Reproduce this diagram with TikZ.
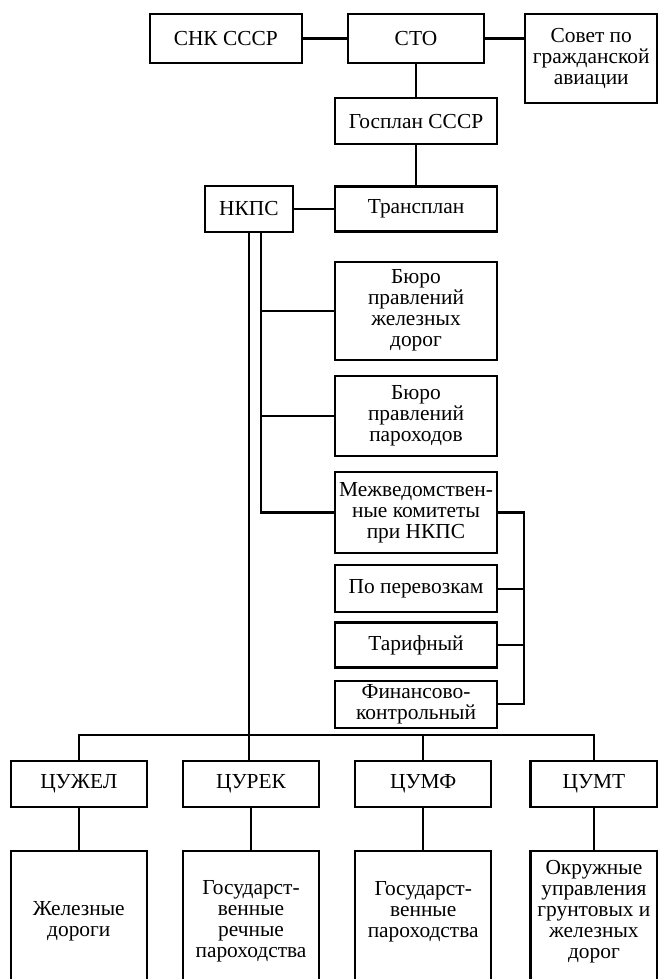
\documentclass[tikz,border=0pt]{standalone}
\usepackage{fontspec}
\setmainfont{Liberation Serif}
\usetikzlibrary{positioning}

\begin{document}
\begin{tikzpicture}[
    x=0.5pt, y=-0.5pt,
    every node/.style={font=\fontsize{10.7}{10.5}\selectfont},
    box/.style={
      draw, line width=1.1pt,
      align=center, inner xsep=1pt, inner ysep=2pt,
      minimum width=81pt, minimum height=23pt,
    },
    topbox/.style={box, minimum width=68pt, minimum height=24.5pt},
    cubox/.style={box, minimum width=68pt, minimum height=23pt},
    areabox/.style={box, minimum width=68pt, minimum height=70pt},
    link/.style={line width=1.1pt},
  ]
  \useasboundingbox (0,0) rectangle (658,979);
  \clip (0,0) rectangle (658,979);

  % top level
  \node[topbox] (sto) at (416,38.5) {СТО};
  \node[topbox, minimum width=76pt, left=22pt of sto] (snk) {СНК СССР};
  \node[topbox, minimum width=66pt, minimum height=44.5pt, anchor=north west]
    (sovet) at ([xshift=19.5pt]sto.north east) {Совет по\\гражданской\\авиации};
  \node[box, below=16.5pt of sto] (gosplan) {Госплан СССР};
  \node[box, minimum height=22.5pt, below=20pt of gosplan] (transplan) {Трансплан};
  \node[box, minimum width=44pt, left=20pt of transplan] (nkps) {НКПС};

  % column under НКПС
  \node[box, minimum height=49pt, below=14pt of transplan] (burozd) {Бюро\\правлений\\железных\\дорог};
  \node[box, minimum height=40pt, below=7pt of burozd] (buropar) {Бюро\\правлений\\пароходов};
  \node[box, minimum height=40.5pt, below=7pt of buropar] (mezhved) {Межведомствен-\\ные комитеты\\при НКПС};
  \node[box, minimum height=23.5pt, below=5pt of mezhved] (perevoz) {По перевозкам};
  \node[box, minimum height=22.5pt, below=4pt of perevoz] (tarif) {Тарифный};
  \node[box, minimum height=23.5pt, below=5.5pt of tarif] (finans) {Финансово-\\контрольный};

  % central administrations
  \node[cubox] (curek) at (251,784) {ЦУРЕК};
  \node[cubox, left=17pt of curek] (cuzhel) {ЦУЖЕЛ};
  \node[cubox, right=17pt of curek] (cumf) {ЦУМФ};
  \node[cubox, minimum width=63.5pt, right=18.5pt of cumf] (cumt) {ЦУМТ};

  \node[areabox, below=21pt of cuzhel] (zhd) {Железные\\дороги};
  \node[areabox, below=21pt of curek] (rechn) {Государст-\\венные\\речные\\пароходства};
  \node[areabox, text depth=12pt, below=21pt of cumf] (parox) {Государст-\\венные\\пароходства};
  \node[areabox, text depth=12pt, minimum width=63.5pt, below=21pt of cumt] (okruzh) {Окружные\\управления\\грунтовых и\\железных\\дорог};

  \coordinate (spine) at ([xshift=6pt]nkps.south);
  \coordinate (brk) at ([xshift=13pt]mezhved.east);
  \coordinate (bus) at (0,735);

  \draw[link] (snk) -- (sto);
  \draw[link] (sto.east) -- (sto.east -| sovet.west);
  \draw[link] (sto) -- (gosplan);
  \draw[link] (gosplan) -- (transplan);
  \draw[link] (nkps) -- (transplan);
  \draw[link] (nkps.south) -- (nkps.south |- curek.north);

  \draw[link] (spine) |- (mezhved.west);
  \draw[link] (burozd.west) -- (burozd.west -| spine);
  \draw[link] (buropar.west) -- (buropar.west -| spine);

  \draw[link] (mezhved.east) -- (brk) |- (finans.east);
  \draw[link] (perevoz.east) -- (perevoz.east -| brk);
  \draw[link] (tarif.east) -- (tarif.east -| brk);

  \draw[link] (cuzhel) |- (cumt.north |- bus) -- (cumt);
  \draw[link] (cumf) -- (cumf.north |- bus);
  \foreach \a/\b in {cuzhel/zhd, curek/rechn, cumf/parox, cumt/okruzh}
    \draw[link] (\a) -- (\b);
\end{tikzpicture}
\end{document}
